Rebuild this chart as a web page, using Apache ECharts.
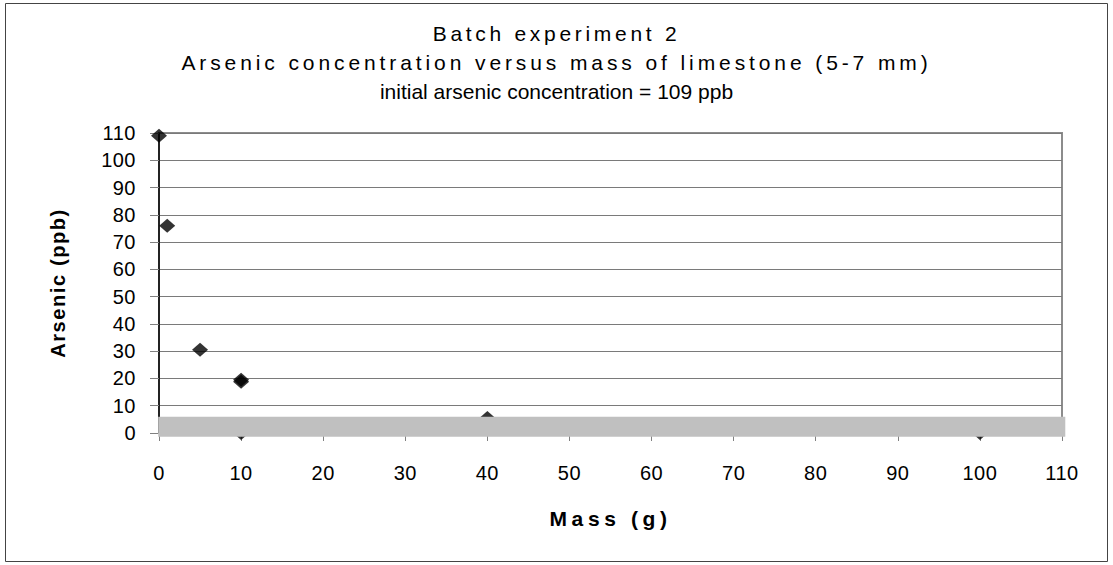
<!DOCTYPE html>
<html>
<head>
<meta charset="utf-8">
<script src="https://cdn.jsdelivr.net/npm/echarts@6/dist/echarts.min.js"></script>
<style>
html,body{margin:0;padding:0;background:#fff;}
#chart{width:1113px;height:565px;}
</style>
</head>
<body>
<div id="chart"></div>
<script>
// ---- data ----
const titleLines = ['Batch experiment 2', 'Arsenic concentration versus mass of limestone (5-7 mm)', 'initial arsenic concentration = 109 ppb'];
const xAxisName = 'Mass (g)';
const yAxisName = 'Arsenic (ppb)';
const massG = [0, 1, 5, 10, 10, 10, 40, 100];
const arsenicPpb = [109, 76, 30.5, 19.5, 18.8, 0, 5.5, 0];
const xTicks = [0, 110, 10];   // min, max, interval
const yTicks = [0, 110, 10];
const floorBandX = [-0.1, 110.4];
const floorBandY = [-1.4, 6];

const chart = echarts.init(document.getElementById('chart'), null, {renderer: 'svg'});
const FONT = '"Liberation Sans", Arial, sans-serif';

const points = massG.map((m, i) => [m, arsenicPpb[i]]);

chart.setOption({
  animation: false,
  backgroundColor: '#ffffff',
  title: {
    text: titleLines.join('\n'),
    left: 'center',
    top: 14,
    textStyle: {fontFamily: FONT, fontSize: 21, fontWeight: 'normal', color: '#000', lineHeight: 29}
  },
  graphic: [{
    type: 'rect', silent: true, z: -10,
    shape: {x: 5.5, y: 3.5, width: 1102, height: 558},
    style: {fill: 'none', stroke: '#444', lineWidth: 1}
  }],
  grid: {
    left: 159, right: 51, top: 133, bottom: 132,
    show: true, borderColor: '#8c8c8c', borderWidth: 2, backgroundColor: 'transparent'
  },
  xAxis: {
    type: 'value', min: xTicks[0], max: xTicks[1], interval: xTicks[2],
    name: xAxisName, nameLocation: 'middle', nameGap: 75,
    nameTextStyle: {fontFamily: FONT, fontSize: 21, fontWeight: 'bold', color: '#000'},
    axisLine: {show: true, onZero: false, lineStyle: {color: '#808080', width: 1}},
    axisTick: {show: true, inside: false, length: 8, lineStyle: {color: '#808080', width: 1}},
    axisLabel: {fontFamily: FONT, fontSize: 20, color: '#000', margin: 30},
    splitLine: {show: false}
  },
  yAxis: {
    type: 'value', min: yTicks[0], max: yTicks[1], interval: yTicks[2],
    name: yAxisName, nameLocation: 'middle', nameGap: 91, nameRotate: 90,
    nameTextStyle: {fontFamily: FONT, fontSize: 20, fontWeight: 'bold', color: '#000'},
    axisLine: {show: true, onZero: false, lineStyle: {color: '#000', width: 1.5}},
    axisTick: {show: true, inside: false, length: 9, lineStyle: {color: '#808080', width: 1}},
    axisLabel: {fontFamily: FONT, fontSize: 20, color: '#000', margin: 23},
    splitLine: {show: true, lineStyle: {color: '#7a7a7a', width: 1}}
  },
  series: [
    {
      type: 'scatter',
      data: points,
      symbol: 'diamond',
      symbolSize: [16, 14],
      itemStyle: {color: '#000'},
      clip: false,
      z: 3
    },
    {
      type: 'custom',
      clip: false,
      silent: true,
      z: 5,
      data: [[floorBandX[0], floorBandX[1], floorBandY[0], floorBandY[1]]],
      encode: {x: [0, 1], y: [2, 3]},
      renderItem: function (params, api) {
        const p0 = api.coord([api.value(0), api.value(3)]);
        const p1 = api.coord([api.value(1), api.value(2)]);
        return {
          type: 'rect',
          shape: {x: p0[0], y: p0[1], width: p1[0] - p0[0], height: p1[1] - p0[1]},
          style: {fill: '#c0c0c0'}
        };
      }
    }
  ]
});

// Excel-like wide character spacing of the original texts
const spacingByText = {};
spacingByText[titleLines[0]] = 3.7;
spacingByText[titleLines[1]] = 3.9;
spacingByText[xAxisName] = 4.6;
spacingByText[yAxisName] = 1.6;
function applySpacing() {
  document.querySelectorAll('#chart svg text').forEach(function (t) {
    const s = t.textContent;
    let ls = spacingByText[s];
    if (ls === undefined && /^\d+$/.test(s)) ls = 0.5;
    if (ls) {
      t.setAttribute('letter-spacing', ls + 'px');
      t.style.letterSpacing = ls + 'px';
    }
  });
}
applySpacing();
chart.on('finished', applySpacing);
setTimeout(applySpacing, 50);
</script>
</body>
</html>
